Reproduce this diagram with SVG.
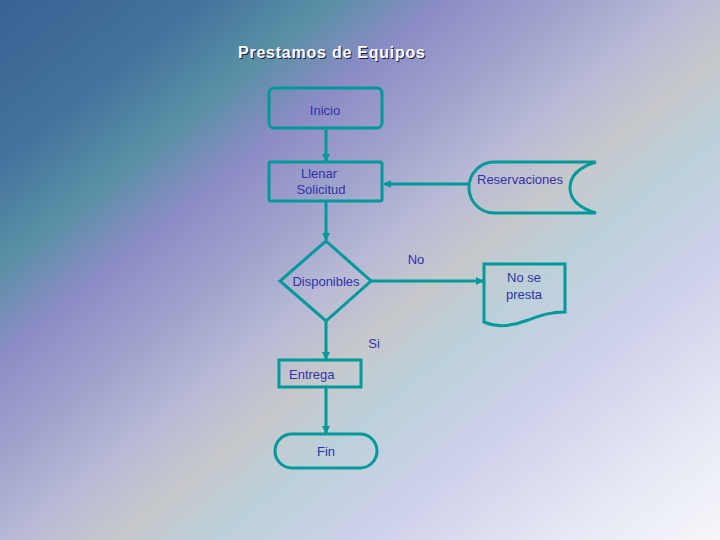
<svg xmlns="http://www.w3.org/2000/svg" width="720" height="540" viewBox="0 0 720 540">
<defs>
<linearGradient id="bg" gradientUnits="userSpaceOnUse" x1="0" y1="0" x2="560" y2="700">
<stop offset="0" stop-color="#3a6292"/>
<stop offset="0.14" stop-color="#44729e"/>
<stop offset="0.23" stop-color="#5890a4"/>
<stop offset="0.31" stop-color="#8c8cc6"/>
<stop offset="0.4" stop-color="#a0a4cc"/>
<stop offset="0.48" stop-color="#b8bad6"/>
<stop offset="0.55" stop-color="#c6c8cc"/>
<stop offset="0.62" stop-color="#bcd0da"/>
<stop offset="0.72" stop-color="#cdd0ea"/>
<stop offset="0.86" stop-color="#e6e8f4"/>
<stop offset="1" stop-color="#fafafc"/>
</linearGradient>
<marker id="ah" markerWidth="8" markerHeight="8" refX="7" refY="4" orient="auto" markerUnits="userSpaceOnUse">
<path d="M0,0 L8,4 L0,8 Z" fill="#009999"/>
</marker>
<style>
.shape{fill:none;stroke:#009999;stroke-width:3;}
.conn{fill:none;stroke:#009999;stroke-width:3;marker-end:url(#ah);}
.t{font-family:"Liberation Sans",Arial,sans-serif;font-size:13px;fill:#3232a6;text-anchor:middle;}
.title{font-family:"Liberation Sans",Arial,sans-serif;font-size:16px;font-weight:bold;}
</style>
</defs>
<rect x="0" y="0" width="720" height="540" fill="url(#bg)"/>
<g id="title">
<text class="title" x="239" y="59" fill="#1a1a40" textLength="187">Prestamos de Equipos</text>
<text class="title" x="238" y="58" fill="#ffffff" textLength="187">Prestamos de Equipos</text>
</g>
<g id="connectors">
<path class="conn" d="M326,128 V161"/>
<path class="conn" d="M468,184 H384"/>
<path class="conn" d="M326,201 V240"/>
<path class="conn" d="M371,281 H483"/>
<path class="conn" d="M326,321 V359"/>
<path class="conn" d="M326,387 V433"/>
<text class="t" x="416" y="264">No</text>
<text class="t" x="374" y="348">Si</text>
</g>
<g id="inicio">
<rect class="shape" x="269" y="88" width="113" height="40" rx="5"/>
<text class="t" x="325" y="115">Inicio</text>
</g>
<g id="llenar">
<rect class="shape" x="269" y="162" width="113" height="39" rx="2"/>
<text class="t" x="319" y="178">Llenar</text>
<text class="t" x="321" y="194">Solicitud</text>
</g>
<g id="reservaciones">
<path class="shape" d="M596,162 H494 A25,25.5 0 0 0 494,213 H596 Q570,205 570,188 Q570,170 596,162"/>
<text class="t" x="520" y="184">Reservaciones</text>
</g>
<g id="disponibles">
<path class="shape" d="M326,241 L371,281 L326,321 L280,281 Z"/>
<text class="t" x="326" y="286">Disponibles</text>
</g>
<g id="nosepresta">
<path class="shape" d="M484,264 H565 V312 C548,312 540,316 525,321 C512,326 498,328 484,322 Z"/>
<text class="t" x="524" y="282">No se</text>
<text class="t" x="524" y="299">presta</text>
</g>
<g id="entrega">
<rect class="shape" x="279" y="360" width="82" height="27"/>
<text class="t" x="289" y="379" style="text-anchor:start">Entrega</text>
</g>
<g id="fin">
<rect class="shape" x="275" y="434" width="102" height="34" rx="17"/>
<text class="t" x="326" y="456">Fin</text>
</g>
</svg>
